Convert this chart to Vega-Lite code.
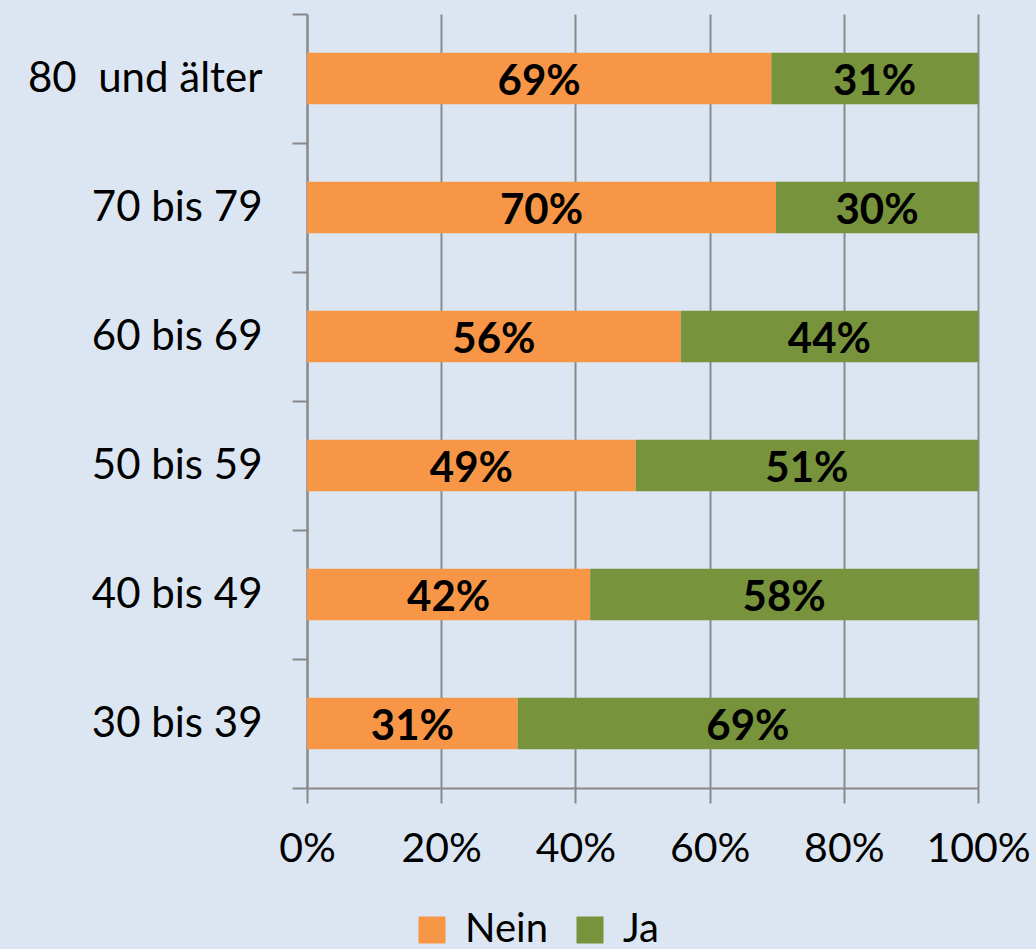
{
  "$schema": "https://vega.github.io/schema/vega-lite/v6.json",
  "width": 671,
  "height": 774,
  "autosize": {"type": "none"},
  "padding": {"left": 307, "top": 14, "right": 58, "bottom": 161},
  "background": "#dce6f2",
  "config": {
    "view": {"stroke": null},
    "font": "Lato",
    "axis": {"labelFont": "Lato", "labelColor": "#000000", "domainColor": "#898989", "tickColor": "#898989", "gridColor": "#898989", "domainWidth": 2, "tickWidth": 2, "gridWidth": 2}
  },
  "data": {
    "values": [
      {"age": "80\u00a0\u00a0und älter", "answer": "Nein", "share": 0.692},
      {"age": "80\u00a0\u00a0und älter", "answer": "Ja", "share": 0.308},
      {"age": "70 bis 79", "answer": "Nein", "share": 0.699},
      {"age": "70 bis 79", "answer": "Ja", "share": 0.301},
      {"age": "60 bis 69", "answer": "Nein", "share": 0.557},
      {"age": "60 bis 69", "answer": "Ja", "share": 0.443},
      {"age": "50 bis 59", "answer": "Nein", "share": 0.490},
      {"age": "50 bis 59", "answer": "Ja", "share": 0.510},
      {"age": "40 bis 49", "answer": "Nein", "share": 0.422},
      {"age": "40 bis 49", "answer": "Ja", "share": 0.578},
      {"age": "30 bis 39", "answer": "Nein", "share": 0.314},
      {"age": "30 bis 39", "answer": "Ja", "share": 0.686}
    ]
  },
  "transform": [
    {"stack": "share", "groupby": ["age"], "sort": [{"field": "answer", "order": "descending"}], "as": ["s0", "s1"]},
    {"calculate": "(datum.s0 + datum.s1) / 2", "as": "mid"}
  ],
  "resolve": {"axis": {"y": "independent"}},
  "layer": [
    {
      "mark": {"type": "bar"},
      "encoding": {
        "y": {
          "field": "age",
          "type": "nominal",
          "sort": ["80\u00a0\u00a0und älter", "70 bis 79", "60 bis 69", "50 bis 59", "40 bis 49", "30 bis 39"],
          "scale": {"paddingInner": 0.6, "paddingOuter": 0.3},
          "axis": {"title": null, "orient": "left", "ticks": false, "domain": false, "labelFontSize": 42, "labelPadding": 45, "labelLimit": 0, "grid": false}
        },
        "x": {
          "field": "s0",
          "type": "quantitative",
          "scale": {"domain": [0, 1], "nice": false},
          "axis": {"title": null, "format": ".0%", "values": [0, 0.2, 0.4, 0.6, 0.8, 1], "grid": true, "tickSize": 15, "labelFontSize": 41, "labelPadding": 26, "labelOverlap": false, "labelFlush": false}
        },
        "x2": {"field": "s1"},
        "color": {
          "field": "answer",
          "type": "nominal",
          "scale": {"domain": ["Nein", "Ja"], "range": ["#f79646", "#77933c"]},
          "legend": {
            "title": null,
            "orient": "none",
            "legendX": 105,
            "legendY": 896,
            "direction": "horizontal",
            "symbolType": "square",
            "symbolSize": 729,
            "symbolStrokeWidth": 0,
            "symbolOpacity": 1,
            "labelFontSize": 40,
            "labelFont": "Lato",
            "labelColor": "#000000",
            "labelOffset": 13,
            "columnPadding": 22
          }
        }
      }
    },
    {
      "mark": {"type": "text", "fontWeight": "bold", "fontSize": 42, "color": "#000000", "baseline": "middle", "dy": 3},
      "encoding": {
        "y": {
          "field": "age",
          "type": "nominal",
          "sort": ["80\u00a0\u00a0und älter", "70 bis 79", "60 bis 69", "50 bis 59", "40 bis 49", "30 bis 39"],
          "axis": {"title": null, "orient": "left", "labels": false, "ticks": true, "domain": true, "grid": false, "tickSize": 15, "tickExtra": true, "bandPosition": 2.5, "tickOffset": -38.7}
        },
        "x": {"field": "mid", "type": "quantitative"},
        "text": {"field": "share", "type": "quantitative", "format": ".0%"}
      }
    }
  ]
}
